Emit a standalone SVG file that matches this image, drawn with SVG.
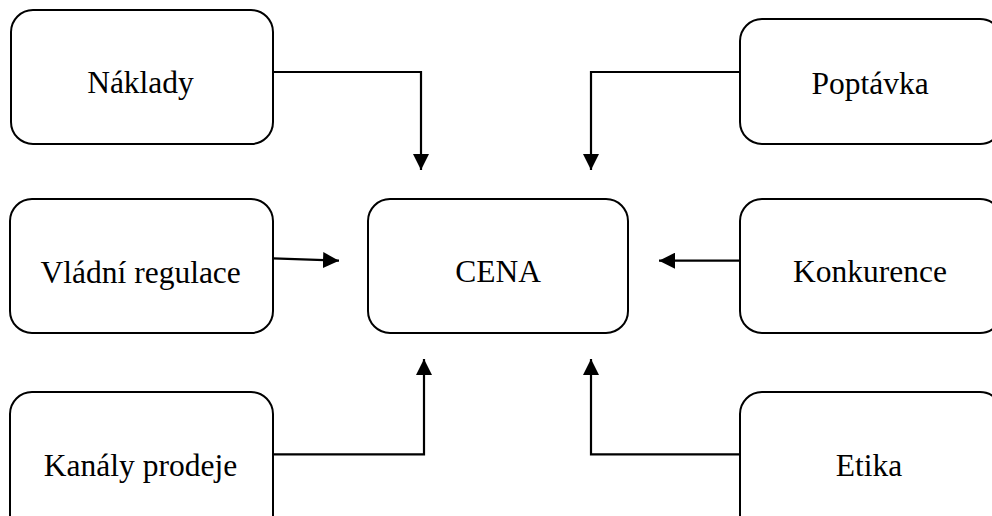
<svg xmlns="http://www.w3.org/2000/svg" width="992" height="516" viewBox="0 0 992 516">
<style>
.box{fill:#fff;stroke:#000;stroke-width:2}
.lbl{font-family:"Liberation Serif","Times New Roman",serif;font-size:31.5px;fill:#000;text-anchor:middle}
.con{fill:none;stroke:#000;stroke-width:2.2}
</style>
<defs>
<marker id="ah" markerUnits="userSpaceOnUse" markerWidth="18" markerHeight="16" refX="16" refY="8" orient="auto">
<path d="M0,0 L16,8 L0,16 z" fill="#000"/>
</marker>
</defs>
<rect width="992" height="516" fill="#fff"/>
<g id="connectors">
<path class="con" d="M273,72 H421 V170" marker-end="url(#ah)"/>
<path class="con" d="M740,72 H591 V170" marker-end="url(#ah)"/>
<path class="con" d="M273,258.3 L339,260.7" marker-end="url(#ah)"/>
<path class="con" d="M740,260.7 H659" marker-end="url(#ah)"/>
<path class="con" d="M273,454.3 H424 V359" marker-end="url(#ah)"/>
<path class="con" d="M740,454.3 H591 V359" marker-end="url(#ah)"/>
</g>
<g id="naklady">
<rect class="box" x="11" y="10" width="262" height="134" rx="22"/>
<text class="lbl" x="140.5" y="92.7">Náklady</text>
</g>
<g id="poptavka">
<rect class="box" x="740" y="19" width="262" height="125" rx="22"/>
<text class="lbl" x="870" y="94">Poptávka</text>
</g>
<g id="vladni-regulace">
<rect class="box" x="10" y="199" width="263" height="134" rx="22"/>
<text class="lbl" x="140.7" y="282.5">Vládní regulace</text>
</g>
<g id="cena">
<rect class="box" x="368" y="199" width="260" height="134" rx="22"/>
<text class="lbl" x="498" y="281.7">CENA</text>
</g>
<g id="konkurence">
<rect class="box" x="740" y="199" width="262" height="134" rx="22"/>
<text class="lbl" x="870" y="281.7">Konkurence</text>
</g>
<g id="kanaly-prodeje">
<rect class="box" x="10" y="392" width="263" height="150" rx="22"/>
<text class="lbl" x="140.5" y="476">Kanály prodeje</text>
</g>
<g id="etika">
<rect class="box" x="740" y="392" width="262" height="150" rx="22"/>
<text class="lbl" x="869" y="476">Etika</text>
</g>
</svg>
